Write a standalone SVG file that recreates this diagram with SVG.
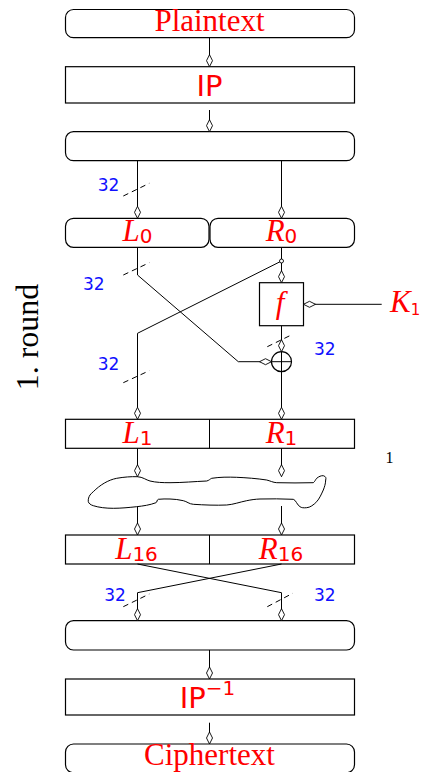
<svg xmlns="http://www.w3.org/2000/svg" width="432" height="772" viewBox="0 0 432 772">
<defs>
<marker id="ah" markerUnits="userSpaceOnUse" markerWidth="14" markerHeight="8" viewBox="-1 -4 14 8" refX="12" refY="0" orient="auto">
<path d="M0,0 L6,-3 L12,0 L6,3 Z" fill="#fff" stroke="#000" stroke-width="0.9"/>
</marker>
</defs>
<style>
.box{fill:#fff;stroke:#000;stroke-width:1.2}
.ln{fill:none;stroke:#000;stroke-width:1}
.arr{fill:none;stroke:#000;stroke-width:1;marker-end:url(#ah)}
.sl{fill:none;stroke:#000;stroke-width:1;stroke-dasharray:5.5 4}
.serif{font-family:'Liberation Serif','Times New Roman',serif;fill:#f00}
.it{font-family:'Liberation Serif','Times New Roman',serif;font-style:italic;fill:#f00}
.sans{font-family:'DejaVu Sans','Liberation Sans',sans-serif;fill:#f00}
.n32{font-family:'DejaVu Sans','Liberation Sans',sans-serif;font-size:17px;fill:#1010ff}
</style>
<g id="plaintext"><rect class="box" x="65.5" y="9.5" width="289" height="28.2" rx="8"/><text class="serif" x="209.5" y="30.7" font-size="31" text-anchor="middle">Plaintext</text></g>
<g id="ip"><rect class="box" x="65.5" y="66.7" width="289" height="36.3"/><text class="sans" x="209.5" y="96" font-size="29" text-anchor="middle">IP</text></g>
<g id="split"><rect class="box" x="65.5" y="131.7" width="289" height="29" rx="8"/></g>
<g id="L0"><rect class="box" x="65.5" y="218.3" width="143.5" height="29" rx="8"/><text x="137.5" y="241" text-anchor="middle"><tspan class="it" font-size="31">L</tspan><tspan class="sans" font-size="20" dy="2">0</tspan></text></g>
<g id="R0"><rect class="box" x="210" y="218.3" width="144.5" height="29" rx="8"/><text x="281.5" y="241" text-anchor="middle"><tspan class="it" font-size="31">R</tspan><tspan class="sans" font-size="20" dy="2">0</tspan></text></g>
<g id="f"><rect class="box" x="259.5" y="282.7" width="44" height="43"/><text class="it" x="280" y="313" font-size="31" text-anchor="middle">f</text></g>
<g id="K1"><text x="390" y="311.7"><tspan class="it" font-size="31">K</tspan><tspan class="sans" font-size="15" dy="3">1</tspan></text></g>
<g id="xor"><circle cx="281.5" cy="361.7" r="10" fill="#fff" stroke="#000" stroke-width="1.2"/><path class="ln" d="M271.5,361.7 H291.5 M281.5,351.7 V371.7"/></g>
<g id="LR1"><rect class="box" x="65.5" y="419.3" width="289" height="29"/><path class="ln" d="M209.5,419.3 V448.3"/><text x="137.5" y="443" text-anchor="middle"><tspan class="it" font-size="31">L</tspan><tspan class="sans" font-size="20" dy="2">1</tspan></text><text x="281.5" y="443" text-anchor="middle"><tspan class="it" font-size="31">R</tspan><tspan class="sans" font-size="20" dy="2">1</tspan></text></g>
<g id="rounds"><path class="ln" d="M93.3,491.7 C100,485 108,480 116.7,478.3 C124,477 131,476.5 137.3,476.7 C143,477 146,480 150,481 C156,482.5 163,482.7 170,482.7 C182,482.7 195,481.5 206.7,481 C209,480.5 210,479 211.7,478.3 C220,477 228,477 236.7,477.3 C246,477.7 257,478.5 266.7,480 C270,480.8 273,482.5 276.7,482.7 C289,483 301,483 313.3,482.7 C315,481.5 315.5,479.5 316.7,478.3 C319,476.5 321,475.5 323.3,475.7 C326,476.5 326.2,478 325.7,480 C325.5,484 324.5,487 323.3,490 C321.5,494 319.5,498.5 316.7,501.7 C313.5,505 310,507.5 306.7,507.7 C303.5,508 301.5,507.8 300,506.7 C297,505 296,500 293.3,499.3 C282,498.8 271,498.7 260,499 C255,499.2 251,499.8 246.7,500.7 C240,502 233.5,504.5 226.7,505 C215.5,505.5 204.5,505 193.3,504.3 C189,504 187,501.5 183.3,500.7 C179,499.7 174.5,499.1 170,499 C166,499 162,498.8 158.3,499.3 C156.5,500 157.5,502 156,502.7 C150,505 143,506 136.7,506.7 C129,507.5 121,508.3 113.3,508.3 C106,508.3 99,507.5 93.3,505.7 C90.5,504.8 88.8,503.5 88.3,501.7 C88,499 88.8,497 90,495 C91,493.8 92,492.7 93.3,491.7 Z"/></g>
<g id="LR16"><rect class="box" x="65.5" y="535" width="289" height="29"/><path class="ln" d="M209.5,535 V564"/><text x="136.5" y="559.3" text-anchor="middle"><tspan class="it" font-size="31">L</tspan><tspan class="sans" font-size="20" dy="2">16</tspan></text><text x="281" y="559.3" text-anchor="middle"><tspan class="it" font-size="31">R</tspan><tspan class="sans" font-size="20" dy="2">16</tspan></text></g>
<g id="merge"><rect class="box" x="65.5" y="620.7" width="289" height="29.3" rx="8"/></g>
<g id="ipinv"><rect class="box" x="65.5" y="679" width="289" height="36"/><text x="207.5" y="708.3" text-anchor="middle"><tspan class="sans" font-size="29">IP</tspan><tspan class="sans" font-size="20" dy="-13">−1</tspan></text></g>
<g id="ciphertext"><rect class="box" x="65.5" y="744" width="289" height="28.7" rx="8"/><text class="serif" x="209.5" y="765" font-size="31" text-anchor="middle">Ciphertext</text></g>
<g id="connectors">
<path class="arr" d="M209.5,37.7 V66.7"/>
<path class="arr" d="M209.5,110 V131.7"/>
<path class="arr" d="M137.5,160.7 V218.3"/>
<path class="arr" d="M281.5,160.7 V218.3"/>
<path class="arr" d="M137.5,247.3 V275 L238.3,361.7 H271.5"/>
<path class="ln" d="M281.5,247.3 V261"/>
<path class="arr" d="M281.5,261 V282.7"/>
<path class="arr" d="M281.5,261 L137.5,333.3 V419.3"/>
<circle cx="281.5" cy="261" r="2" fill="#fff" stroke="#000" stroke-width="0.9"/>
<path class="arr" d="M381.7,304.3 H303.5"/>
<path class="arr" d="M281.5,325.7 V351.7"/>
<path class="arr" d="M281.5,371.7 V419.3"/>
<path class="arr" d="M137.5,448.3 V476.7"/>
<path class="arr" d="M281.5,448.3 V476.7"/>
<path class="arr" d="M137.5,506.7 V535"/>
<path class="arr" d="M281.5,506 V535"/>
<path class="arr" d="M137.5,564 L281.5,592.7 V620.7"/>
<path class="arr" d="M281.5,564 L137.5,592.7 V620.7"/>
<path class="arr" d="M209.5,650 V679"/>
<path class="arr" d="M209.5,722.7 V744"/>
<path class="sl" d="M123.3,196 L149.3,183.3"/>
<path class="sl" d="M123.3,275 L149.3,262.7"/>
<path class="sl" d="M267.3,346.7 L292.7,334.3"/>
<path class="sl" d="M123.3,382.7 L149.3,370.7"/>
<path class="sl" d="M123.3,606.7 L149.3,594"/>
<path class="sl" d="M267.3,606.7 L292.7,593.3"/>
</g>
<g id="labels">
<text class="n32" x="97.7" y="190.7">32</text>
<text class="n32" x="83" y="290">32</text>
<text class="n32" x="314" y="355">32</text>
<text class="n32" x="97.7" y="370">32</text>
<text class="n32" x="104.3" y="600.7">32</text>
<text class="n32" x="314" y="600.7">32</text>
<text x="389.5" y="462.7" font-family="'Liberation Serif','Times New Roman',serif" font-size="16" text-anchor="middle" fill="#000">1</text>
<text transform="translate(37.7,337) rotate(-90)" font-family="'Liberation Serif','Times New Roman',serif" font-size="32" text-anchor="middle" fill="#000">1. round</text>
</g>
</svg>
